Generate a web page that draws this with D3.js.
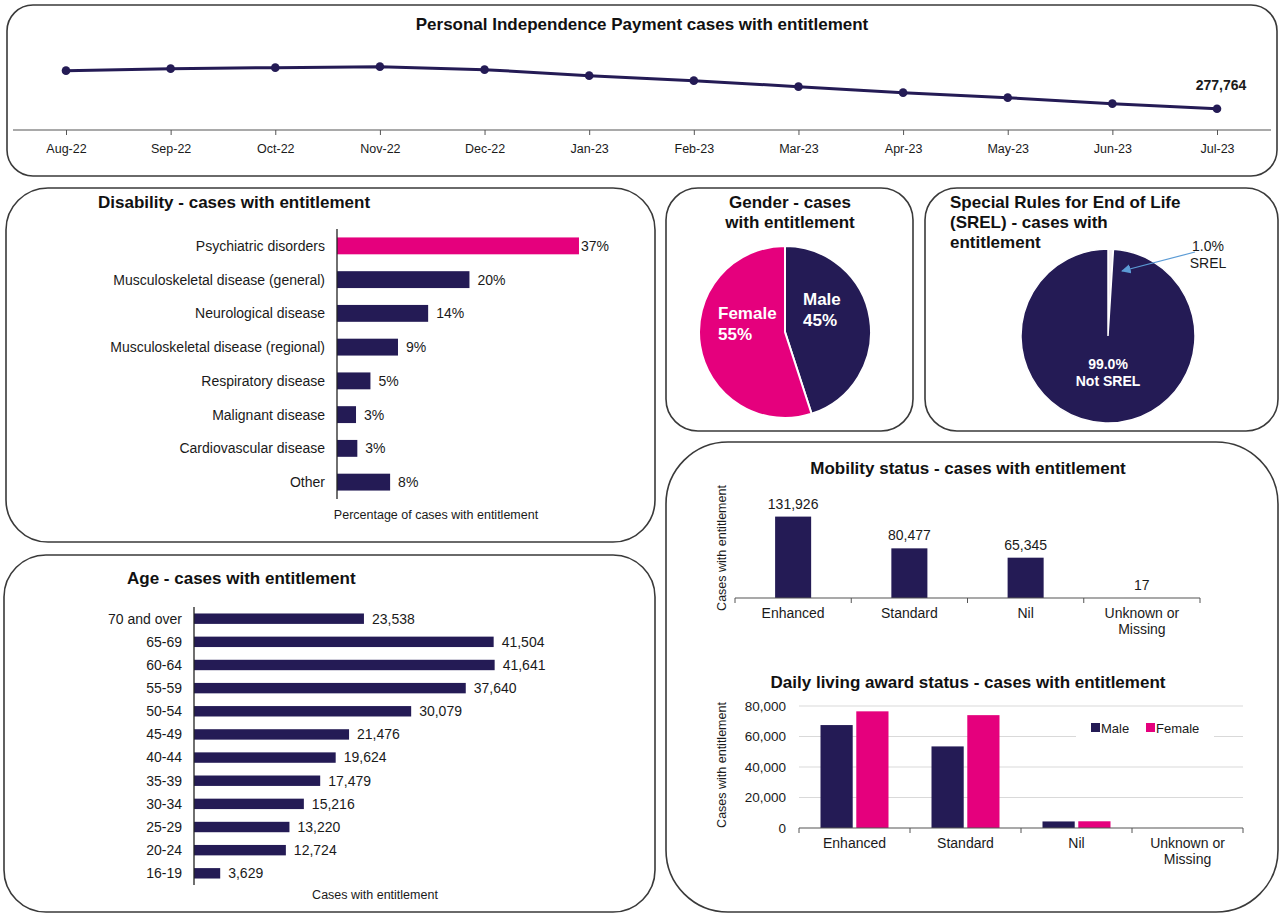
<!DOCTYPE html>
<html><head><meta charset="utf-8">
<script src="https://cdn.jsdelivr.net/npm/d3@7/dist/d3.min.js"></script>
<style>
html,body{margin:0;padding:0;background:#fff;}
svg{display:block;font-family:"Liberation Sans",Arial,sans-serif;}
</style></head>
<body>
<svg id="c" width="1281" height="914"></svg>
<script>
// ---------------- DATA ----------------
const months = ["Aug-22","Sep-22","Oct-22","Nov-22","Dec-22","Jan-23","Feb-23","Mar-23","Apr-23","May-23","Jun-23","Jul-23"];
const pipCases = [300600, 301800, 302400, 303000, 301200, 297600, 294600, 291000, 287400, 284400, 280800, 277764];

const disabilityCats = ["Psychiatric disorders","Musculoskeletal disease (general)","Neurological disease","Musculoskeletal disease (regional)","Respiratory disease","Malignant disease","Cardiovascular disease","Other"];
const disabilityPct = [0.369, 0.202, 0.139, 0.093, 0.051, 0.029, 0.031, 0.081];

const ageCats = ["70 and over","65-69","60-64","55-59","50-54","45-49","40-44","35-39","30-34","25-29","20-24","16-19"];
const ageCases = [23538, 41504, 41641, 37640, 30079, 21476, 19624, 17479, 15216, 13220, 12724, 3629];

const genderCats = ["Male","Female"];
const genderShare = [0.45, 0.55];

const srelCats = ["SREL","Not SREL"];
const srelShare = [0.01, 0.99];

const mobilityCats = ["Enhanced","Standard","Nil","Unknown or Missing"];
const mobilityCases = [131926, 80477, 65345, 17];

const dailyCats = ["Enhanced","Standard","Nil","Unknown or Missing"];
const dailySeries = ["Male","Female"];
const dailyMale = [67500, 53500, 4300, 10];
const dailyFemale = [76500, 74000, 4400, 7];
const dailyTicks = [0, 20000, 40000, 60000, 80000];

// ---------------- STYLE ----------------
const NAVY = "#241b55", PINK = "#e5007d", BORDER = "#3a3a3a", TXT = "#1a1a1a";
const svg = d3.select("#c");
const fmt = d3.format(",");

function panel(x, y, w, h, r) {
  svg.append("rect").attr("x", x).attr("y", y).attr("width", w).attr("height", h)
    .attr("rx", r).attr("ry", r).attr("fill", "#fff").attr("stroke", BORDER).attr("stroke-width", 1.6);
}
function title(x, y, lines, anchor, size) {
  const t = svg.append("text").attr("x", x).attr("y", y).attr("text-anchor", anchor || "middle")
    .attr("font-weight", "bold").attr("font-size", size || 17).attr("fill", "#111");
  lines.forEach((l, i) => t.append("tspan").attr("x", x).attr("dy", i ? "1.18em" : 0).text(l));
}

// panels
panel(7, 5, 1270, 171, 26);
panel(6, 188, 649, 354, 42);
panel(4, 555, 651, 357, 42);
panel(666, 188, 247, 243, 32);
panel(925, 188, 353, 243, 32);
panel(666, 442, 612, 470, 62);

// ---------------- TOP LINE CHART ----------------
title(642, 30, ["Personal Independence Payment cases with entitlement"], "middle", 17);
const xM = d3.scalePoint().domain(months).range([66, 1217]);
const yM = d3.scaleLinear().domain([265000, 320000]).range([130, 38.3]);
svg.append("line").attr("x1", 13).attr("x2", 1271).attr("y1", 130).attr("y2", 130).attr("stroke", "#555").attr("stroke-width", 1.2);
const axM = svg.append("g").attr("transform", "translate(0,130)")
  .call(d3.axisBottom(xM).tickSize(5).tickPadding(9));
axM.select(".domain").remove();
axM.selectAll("line").attr("stroke", "#555");
axM.selectAll("text").attr("font-size", 12.5).attr("fill", TXT).attr("font-family", "Liberation Sans, Arial, sans-serif");
svg.append("path").datum(pipCases)
  .attr("d", d3.line().x((d, i) => xM(months[i])).y(d => yM(d)))
  .attr("fill", "none").attr("stroke", NAVY).attr("stroke-width", 3);
svg.selectAll(".pt").data(pipCases).enter().append("circle")
  .attr("cx", (d, i) => xM(months[i])).attr("cy", d => yM(d)).attr("r", 4.3).attr("fill", NAVY);
svg.append("text").attr("x", xM(months[11]) + 4).attr("y", yM(pipCases[11]) - 19)
  .attr("text-anchor", "middle").attr("font-weight", "bold").attr("font-size", 14).attr("fill", TXT)
  .text(fmt(pipCases[11]));

// ---------------- DISABILITY ----------------
title(98, 208, ["Disability - cases with entitlement"], "start", 17);
const yD = d3.scaleBand().domain(disabilityCats).range([229, 499]).paddingInner(0.5).paddingOuter(0.25);
const xD = d3.scaleLinear().domain([0, 0.4]).range([337, 337 + 262.3]);
svg.selectAll(".db").data(disabilityCats).enter().append("rect")
  .attr("x", xD(0)).attr("y", d => yD(d)).attr("height", yD.bandwidth())
  .attr("width", (d, i) => xD(disabilityPct[i]) - xD(0))
  .attr("fill", (d, i) => i === 0 ? PINK : NAVY);
svg.append("line").attr("x1", 337).attr("x2", 337).attr("y1", 229).attr("y2", 499).attr("stroke", "#222").attr("stroke-width", 1.3);
svg.selectAll(".dl").data(disabilityCats).enter().append("text")
  .attr("x", 325).attr("y", d => yD(d) + yD.bandwidth() / 2).attr("dy", "0.35em")
  .attr("text-anchor", "end").attr("font-size", 14).attr("fill", TXT).text(d => d);
svg.selectAll(".dv").data(disabilityPct).enter().append("text")
  .attr("x", (d, i) => xD(d) + (i === 0 ? 2 : 8)).attr("y", (d, i) => yD(disabilityCats[i]) + yD.bandwidth() / 2).attr("dy", "0.35em")
  .attr("font-size", 14).attr("fill", TXT).text(d => d3.format(".0%")(d));
svg.append("text").attr("x", 436).attr("y", 519).attr("text-anchor", "middle").attr("font-size", 12.5).attr("fill", TXT)
  .text("Percentage of cases with entitlement");

// ---------------- AGE ----------------
title(127, 584, ["Age - cases with entitlement"], "start", 17);
const yA = d3.scaleBand().domain(ageCats).range([607, 885]).paddingInner(0.55).paddingOuter(0.28);
const xA = d3.scaleLinear().domain([0, 45000]).range([194, 194 + 45 * 7.22]);
svg.selectAll(".ab").data(ageCats).enter().append("rect")
  .attr("x", xA(0)).attr("y", d => yA(d)).attr("height", yA.bandwidth())
  .attr("width", (d, i) => xA(ageCases[i]) - xA(0)).attr("fill", NAVY);
svg.append("line").attr("x1", 194).attr("x2", 194).attr("y1", 607).attr("y2", 885).attr("stroke", "#222").attr("stroke-width", 1.3);
svg.selectAll(".al").data(ageCats).enter().append("text")
  .attr("x", 182).attr("y", d => yA(d) + yA.bandwidth() / 2).attr("dy", "0.35em")
  .attr("text-anchor", "end").attr("font-size", 14).attr("fill", TXT).text(d => d);
svg.selectAll(".av").data(ageCases).enter().append("text")
  .attr("x", d => xA(d) + 8).attr("y", (d, i) => yA(ageCats[i]) + yA.bandwidth() / 2).attr("dy", "0.35em")
  .attr("font-size", 14).attr("fill", TXT).text(d => fmt(d));
svg.append("text").attr("x", 375).attr("y", 899).attr("text-anchor", "middle").attr("font-size", 12.5).attr("fill", TXT)
  .text("Cases with entitlement");

// ---------------- GENDER PIE ----------------
title(790, 208, ["Gender - cases", "with entitlement"], "middle", 17);
const pie = d3.pie().sort(null).value(d => d);
const gArcs = pie(genderShare);
const gArc = d3.arc().innerRadius(0).outerRadius(86);
const gG = svg.append("g").attr("transform", "translate(785,332)");
gG.selectAll("path").data(gArcs).enter().append("path").attr("d", gArc)
  .attr("fill", (d, i) => i === 0 ? NAVY : PINK).attr("stroke", "#fff").attr("stroke-width", 2);
const gLabelPos = [[803, 305], [718, 319]];
genderCats.forEach((c, i) => {
  const t = svg.append("text").attr("x", gLabelPos[i][0]).attr("y", gLabelPos[i][1])
    .attr("font-weight", "bold").attr("font-size", 17).attr("fill", "#fff");
  t.append("tspan").attr("x", gLabelPos[i][0]).text(c);
  t.append("tspan").attr("x", gLabelPos[i][0]).attr("dy", "1.25em").text(d3.format(".0%")(genderShare[i]));
});

// ---------------- SREL PIE ----------------
title(950, 208, ["Special Rules for End of Life", "(SREL) - cases with", "entitlement"], "start", 17);
const sArcs = pie(srelShare);
const sArc = d3.arc().innerRadius(0).outerRadius(87);
const sG = svg.append("g").attr("transform", "translate(1108,336)");
sG.selectAll("path").data(sArcs).enter().append("path").attr("d", sArc)
  .attr("fill", (d, i) => i === 0 ? "#f4eef2" : NAVY).attr("stroke", "#fff").attr("stroke-width", 1.5);
const defs = svg.append("defs");
defs.append("marker").attr("id", "arr").attr("viewBox", "0 0 10 10").attr("refX", 9).attr("refY", 5)
  .attr("markerWidth", 8).attr("markerHeight", 8).attr("orient", "auto")
  .append("path").attr("d", "M0,0 L10,5 L0,10 z").attr("fill", "#5b9bd5");
svg.append("line").attr("x1", 1195).attr("y1", 252).attr("x2", 1122).attr("y2", 271)
  .attr("stroke", "#5b9bd5").attr("stroke-width", 1.2).attr("marker-end", "url(#arr)");
const sl = svg.append("text").attr("x", 1208).attr("y", 251).attr("text-anchor", "middle").attr("font-size", 14).attr("fill", TXT);
sl.append("tspan").attr("x", 1208).text(d3.format(".1%")(srelShare[0]));
sl.append("tspan").attr("x", 1208).attr("dy", "1.2em").text(srelCats[0]);
const nl = svg.append("text").attr("x", 1108).attr("y", 369).attr("text-anchor", "middle").attr("font-size", 14).attr("font-weight", "bold").attr("fill", "#fff");
nl.append("tspan").attr("x", 1108).text(d3.format(".1%")(srelShare[1]));
nl.append("tspan").attr("x", 1108).attr("dy", "1.2em").text(srelCats[1]);

// ---------------- MOBILITY ----------------
title(968, 474, ["Mobility status - cases with entitlement"], "middle", 17);
const xMob = d3.scaleBand().domain(mobilityCats).range([735, 1200]);
const yMob = d3.scaleLinear().domain([0, 140000]).range([598, 598 - 140 * 0.617]);
const mbw = xMob.bandwidth() * 0.31;
svg.selectAll(".mb").data(mobilityCats).enter().append("rect")
  .attr("x", d => xMob(d) + xMob.bandwidth() / 2 - mbw / 2).attr("width", mbw)
  .attr("y", (d, i) => yMob(mobilityCases[i])).attr("height", (d, i) => yMob(0) - yMob(mobilityCases[i]))
  .attr("fill", NAVY);
svg.selectAll(".mv").data(mobilityCases).enter().append("text")
  .attr("x", (d, i) => xMob(mobilityCats[i]) + xMob.bandwidth() / 2).attr("y", d => yMob(d) - 8)
  .attr("text-anchor", "middle").attr("font-size", 14).attr("fill", TXT).text(d => fmt(d));
svg.append("line").attr("x1", 735).attr("x2", 1200).attr("y1", 598).attr("y2", 598).attr("stroke", "#555").attr("stroke-width", 1.2);
const mBounds = mobilityCats.map(c => xMob(c)).concat([xMob.range()[1]]);
svg.selectAll(".mt").data(mBounds).enter().append("line")
  .attr("x1", d => d).attr("x2", d => d).attr("y1", 598).attr("y2", 603).attr("stroke", "#555");
function catLabels(scale, cats, y) {
  cats.forEach(c => {
    const parts = c === "Unknown or Missing" ? ["Unknown or", "Missing"] : [c];
    const cx = scale(c) + scale.bandwidth() / 2;
    const t = svg.append("text").attr("x", cx).attr("y", y).attr("text-anchor", "middle").attr("font-size", 14).attr("fill", TXT);
    parts.forEach((p, i) => t.append("tspan").attr("x", cx).attr("dy", i ? "1.15em" : 0).text(p));
  });
}
catLabels(xMob, mobilityCats, 618);
svg.append("text").attr("transform", "translate(726,548) rotate(-90)").attr("text-anchor", "middle")
  .attr("font-size", 12.5).attr("fill", TXT).text("Cases with entitlement");

// ---------------- DAILY LIVING ----------------
title(968, 688, ["Daily living award status - cases with entitlement"], "middle", 17);
const xDl = d3.scaleBand().domain(dailyCats).range([799, 1243]);
const xSer = d3.scaleBand().domain(dailySeries).range([-34, 34]).paddingInner(0.1);
const yDl = d3.scaleLinear().domain([0, 80000]).range([828, 706]);
svg.selectAll(".dg").data(dailyTicks.slice(1)).enter().append("line")
  .attr("x1", 799).attr("x2", 1243).attr("y1", d => yDl(d)).attr("y2", d => yDl(d))
  .attr("stroke", "#d9d9d9").attr("stroke-width", 1);
svg.selectAll(".dyt").data(dailyTicks).enter().append("text")
  .attr("x", 786).attr("y", d => yDl(d)).attr("dy", "0.35em").attr("text-anchor", "end")
  .attr("font-size", 13.5).attr("fill", TXT).text(d => fmt(d));
const dailyData = [dailyMale, dailyFemale];
dailySeries.forEach((s, si) => {
  svg.selectAll(".dbar" + si).data(dailyCats).enter().append("rect")
    .attr("x", d => xDl(d) + xDl.bandwidth() / 2 + xSer(s)).attr("width", xSer.bandwidth())
    .attr("y", (d, i) => yDl(dailyData[si][i])).attr("height", (d, i) => yDl(0) - yDl(dailyData[si][i]))
    .attr("fill", si === 0 ? NAVY : PINK);
});
svg.append("line").attr("x1", 799).attr("x2", 1243).attr("y1", 828).attr("y2", 828).attr("stroke", "#555").attr("stroke-width", 1.2);
const dBounds = dailyCats.map(c => xDl(c)).concat([xDl.range()[1]]);
svg.selectAll(".dtk").data(dBounds).enter().append("line")
  .attr("x1", d => d).attr("x2", d => d).attr("y1", 828).attr("y2", 833).attr("stroke", "#555");
catLabels(xDl, dailyCats, 848);
svg.append("text").attr("transform", "translate(726,765) rotate(-90)").attr("text-anchor", "middle")
  .attr("font-size", 12.5).attr("fill", TXT).text("Cases with entitlement");
// legend
const lg = svg.append("g");
lg.append("rect").attr("x", 1076).attr("y", 718).attr("width", 138).attr("height", 20).attr("fill", "#fff");
const lgX = [1091, 1146];
dailySeries.forEach((s, i) => {
  lg.append("rect").attr("x", lgX[i]).attr("y", 723).attr("width", 9).attr("height", 9).attr("fill", i === 0 ? NAVY : PINK);
  lg.append("text").attr("x", lgX[i] + 10).attr("y", 728).attr("dy", "0.35em").attr("font-size", 13).attr("fill", TXT).text(s);
});
</script>
</body></html>
